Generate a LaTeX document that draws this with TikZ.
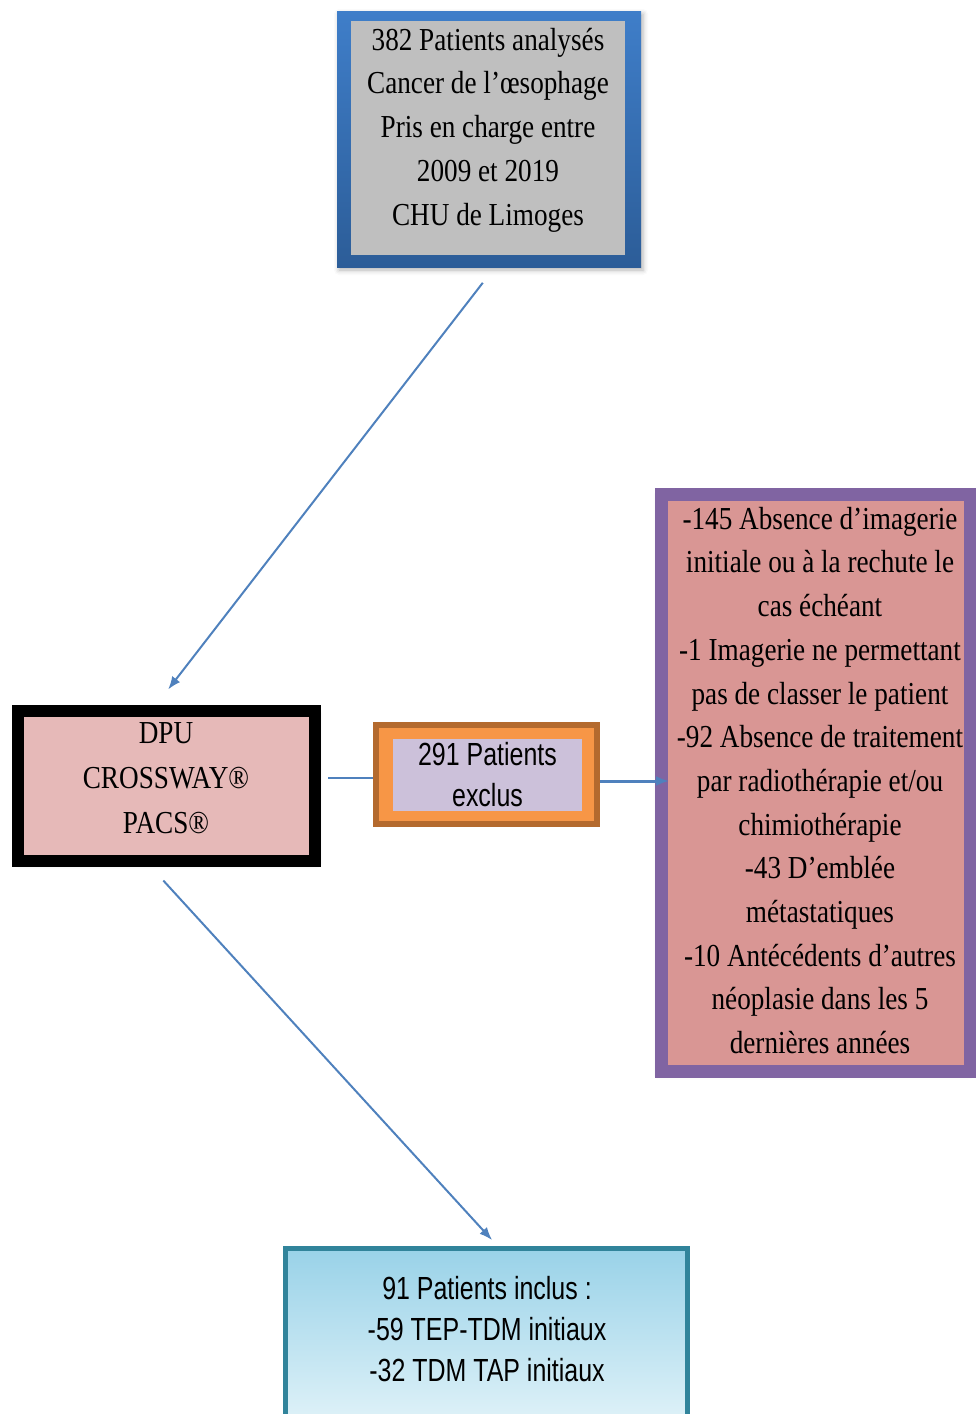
\documentclass[tikz,border=0pt]{standalone}
\usepackage{fontspec}
\setmainfont{Liberation Serif}[FakeStretch=0.85]
\newfontfamily\narrowsans{Liberation Sans}[FakeStretch=0.78]
\usetikzlibrary{arrows.meta,shadows.blur}

\definecolor{frametop}{HTML}{3F7EC9}
\definecolor{framebot}{HTML}{2C5D98}
\definecolor{boxgray}{HTML}{BFBFBF}
\definecolor{rosefill}{HTML}{E6B9B8}
\definecolor{orangeline}{HTML}{B46A2E}
\definecolor{orangefill}{HTML}{F79646}
\definecolor{lavender}{HTML}{CCC1DA}
\definecolor{purpleline}{HTML}{8064A2}
\definecolor{pinkfill}{HTML}{D99694}
\definecolor{tealline}{HTML}{31849B}
\definecolor{skytop}{HTML}{99D2E8}
\definecolor{skybot}{HTML}{E2F3F9}
\definecolor{linkblue}{HTML}{4F81BD}

\tikzset{
  plain/.style={inner sep=0pt, outer sep=0pt},
  softshadow/.style={blur shadow={shadow xshift=2pt, shadow yshift=-3pt,
      shadow blur radius=5pt, shadow opacity=30}},
  seriftext/.style={align=center, inner sep=0pt,
      font=\fontsize{32pt}{43.7pt}\selectfont},
  sanstext/.style={align=center, inner sep=0pt,
      font=\narrowsans\fontsize{32pt}{41pt}\selectfont},
  flow/.style={draw=linkblue, line width=2pt, -{Latex[length=13pt,width=10pt]}},
  link/.style={draw=linkblue, line width=2.5pt},
}

\begin{document}
\begin{tikzpicture}[x=1pt,y=-1pt]
\useasboundingbox (0,0) rectangle (976,1414);
\clip (0,0) rectangle (976,1414);

% starting cohort
\node[plain, softshadow, minimum width=304pt, minimum height=256pt,
      top color=frametop, bottom color=framebot] (top) at (489,139) {};
\node[plain, fill=boxgray, minimum width=274pt, minimum height=234pt]
      (topfill) at (488,138) {};
\node[seriftext] (toptext) at (488,130)
  {382 Patients analysés\\Cancer de l’œsophage\\Pris en charge entre\\2009 et 2019\\CHU de Limoges};

% data sources
\node[softshadow, draw=black, line width=12pt, fill=rosefill,
      minimum width=297pt, minimum height=150pt] (dpu) at (166.5,785.5) {};
\node[seriftext, font=\fontsize{32pt}{45pt}\selectfont] (dputext) at (166,778)
  {DPU\\CROSSWAY®\\PACS®};

% excluded patients
\node[draw=orangeline, line width=6pt, fill=orangefill,
      minimum width=221pt, minimum height=99pt] (excl) at (486.5,774.5) {};
\node[plain, sanstext, fill=lavender, minimum width=189pt, minimum height=72pt]
      (exclfill) at (487.5,775) {291 Patients\\exclus};

% reasons for exclusion
\node[blur shadow={shadow xshift=-2pt, shadow yshift=-2pt, shadow blur radius=6pt,
      shadow opacity=25}, draw=purpleline, line width=13pt, fill=pinkfill,
      minimum width=309pt, minimum height=577pt] (reasons) at (816,783) {};
\node[seriftext] (reasonstext) at (820,780.5)
  {-145 Absence d’imagerie\\initiale ou à la rechute le\\cas échéant\\
   -1 Imagerie ne permettant\\pas de classer le patient\\
   -92 Absence de traitement\\par radiothérapie et/ou\\chimiothérapie\\
   -43 D’emblée\\métastatiques\\
   -10 Antécédents d’autres\\néoplasie dans les 5\\dernières années};

% included patients
\node[draw=tealline, line width=5pt, top color=skytop, bottom color=skybot,
      minimum width=402pt, minimum height=181.5pt] (incl) at (486.5,1339.25) {};
\node[sanstext] (incltext) at (487,1329)
  {91 Patients inclus :\\-59 TEP-TDM initiaux\\-32 TDM TAP initiaux};

% connectors
\draw[flow, shorten <=20pt, shorten >=19pt]
  ([xshift=6pt]top.south) -- ([xshift=-10pt]dpu.north);
\draw[flow, shorten <=19pt, shorten >=8pt]
  ([xshift=-16pt]dpu.south) -- ([xshift=11pt]incl.north);
\draw[link, shorten <=7pt]
  ([yshift=7.5pt]dpu.east) -- ([yshift=7.5pt]dpu.east -| excl.west);
\draw[flow, line width=3pt, shorten >=-14pt]
  ([yshift=-6.5pt]excl.east) -- ([yshift=-6.5pt]excl.east -| reasons.west);
\end{tikzpicture}
\end{document}
